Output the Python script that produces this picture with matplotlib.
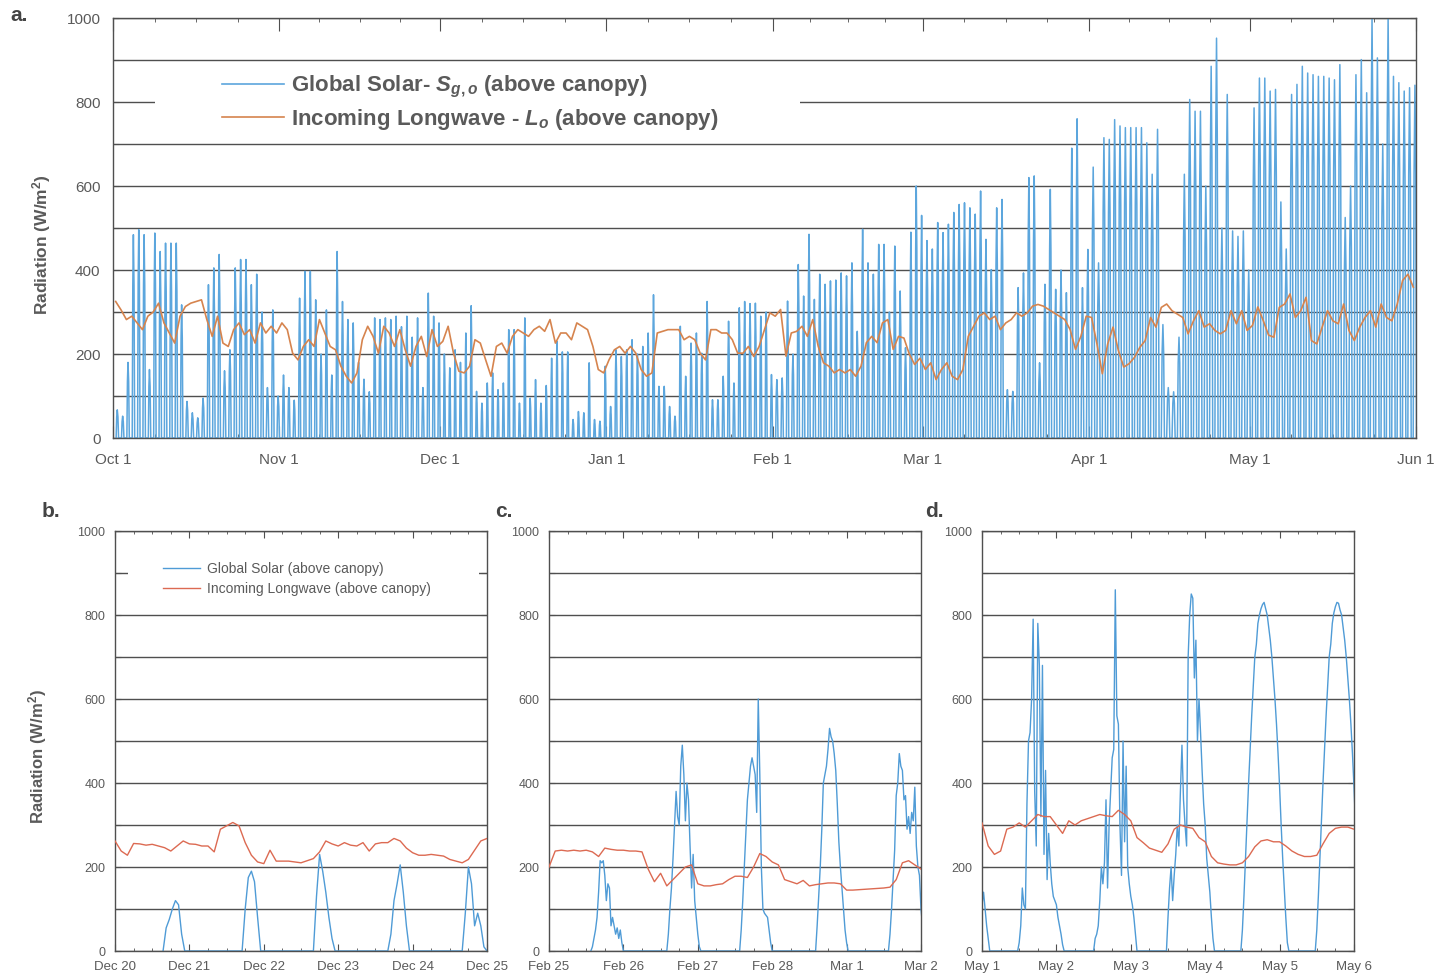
import numpy as np
import matplotlib.pyplot as plt
from matplotlib.lines import Line2D
from matplotlib.patches import Rectangle

plt.rcParams['font.family'] = ['Liberation Sans', 'DejaVu Sans']
plt.rcParams['mathtext.fontset'] = 'custom'
plt.rcParams['mathtext.it'] = 'Liberation Sans:italic:bold'
plt.rcParams['mathtext.rm'] = 'Liberation Sans:bold'
plt.rcParams['mathtext.bf'] = 'Liberation Sans:bold'

# ---- season overview, Oct 1 - May 31: daily peak global solar (W/m2)
solar_oct = [67, 52, 180, 484, 496, 484, 163, 488, 444, 464, 464, 464, 317, 87, 60, 48, 95, 365, 405, 437,
             160, 210, 405, 425, 425, 365, 390, 300, 120, 305, 100]
solar_nov = [150, 120, 90, 333, 397, 397, 329, 200, 305, 150, 444, 325, 282, 274, 180, 140, 110, 286, 282, 286,
             282, 290, 265, 290, 240, 286, 120, 345, 290, 274]
solar_dec = [200, 167, 210, 180, 250, 315, 111, 83, 131, 155, 115, 131, 258, 258, 83, 286, 95, 139, 83, 125,
             190, 230, 205, 205, 44, 63, 60, 179, 44, 40, 171]
solar_jan = [75, 210, 194, 210, 234, 200, 218, 250, 341, 123, 123, 75, 52, 266, 147, 226, 250, 202, 325, 91,
             91, 147, 278, 131, 310, 325, 320, 321, 290, 300, 151]
solar_feb = [139, 143, 326, 200, 413, 338, 485, 330, 390, 366, 374, 376, 393, 386, 417, 254, 497, 417, 390, 461,
             461, 300, 457, 350, 215, 490, 600, 530]
solar_mar = [470, 450, 513, 489, 509, 537, 556, 560, 548, 533, 588, 473, 401, 548, 568, 115, 111, 358, 393, 620,
             624, 179, 366, 592, 354, 400, 346, 690, 760, 358, 449]
solar_apr = [645, 417, 715, 711, 758, 743, 739, 739, 739, 739, 703, 628, 735, 270, 120, 110, 240, 628, 806, 778,
             778, 600, 885, 952, 500, 818, 493, 480, 493, 400]
solar_may = [786, 857, 857, 826, 830, 562, 450, 818, 842, 885, 869, 865, 861, 861, 857, 853, 889, 525, 600, 865,
             901, 822, 1000, 905, 700, 1000, 861, 846, 826, 834, 840]

# daily incoming longwave (W/m2)
lw_oct = [325, 305, 282, 290, 274, 258, 290, 300, 321, 274, 250, 226, 290, 313, 321, 325, 329, 282, 242, 290,
          226, 218, 258, 274, 246, 258, 226, 274, 250, 266, 250]
lw_nov = [274, 258, 202, 186, 218, 234, 218, 282, 250, 218, 210, 171, 147, 131, 155, 234, 266, 242, 202, 266,
          250, 218, 258, 210, 171, 218, 242, 194, 258, 218]
lw_dec = [230, 266, 202, 159, 155, 171, 234, 226, 186, 147, 218, 226, 202, 242, 258, 250, 242, 258, 266, 254,
          282, 226, 250, 250, 234, 274, 266, 258, 218, 163, 155]
lw_jan = [186, 210, 218, 202, 218, 202, 163, 147, 155, 250, 254, 258, 258, 258, 234, 242, 234, 202, 186, 258,
          258, 250, 250, 234, 202, 202, 218, 194, 218, 258, 298]
lw_feb = [290, 306, 195, 250, 254, 266, 242, 282, 219, 179, 171, 155, 163, 155, 163, 147, 171, 227, 242, 227,
          274, 282, 211, 242, 238, 200, 175, 190]
lw_mar = [163, 179, 139, 163, 179, 147, 139, 163, 242, 266, 290, 298, 282, 290, 258, 274, 282, 298, 290, 298,
          314, 318, 314, 306, 298, 290, 282, 258, 211, 242, 290]
lw_apr = [287, 224, 153, 224, 264, 208, 169, 177, 192, 216, 232, 287, 264, 311, 319, 303, 295, 287, 248, 279,
          303, 264, 272, 256, 248, 256, 303, 272, 303, 256]
lw_may = [268, 312, 280, 245, 240, 311, 319, 343, 287, 303, 335, 232, 224, 264, 303, 279, 272, 319, 256, 232,
          264, 287, 303, 264, 319, 287, 279, 319, 375, 390, 359]

month_labels = ['Oct 1', 'Nov 1', 'Dec 1', 'Jan 1', 'Feb 1', 'Mar 1', 'Apr 1', 'May 1', 'Jun 1']
# hours (logger clock) of sunrise / sunset for each month, and of the daily maximum
sunrise_h = [14, 14.5, 15.5, 15, 14, 13, 12, 11.5]
sunset_h = [25, 24, 23.5, 24, 24.5, 25, 26, 26.5]
peak_h = 19.2
# day curve drawn through rise, mid-morning, peak, mid-afternoon, set
shoulder = 0.75

# ---- b. Dec 20-25: hourly solar for each day, starting at the given hour
b_days = ['Dec 20', 'Dec 21', 'Dec 22', 'Dec 23', 'Dec 24', 'Dec 25']
b_solar_start = [15.5, 41, 64, 88, 112]
b_solar_step = 1.0
b_solar = [
    [0, 55, 75, 100, 120, 110, 40, 0],
    [0, 100, 175, 190, 165, 80, 0],
    [0, 130, 230, 190, 140, 80, 30, 0],
    [0, 40, 120, 160, 205, 140, 60, 0],
    [0, 90, 200, 160, 60, 90, 60, 10, 0],
]
# longwave every 2 hours from Dec 20 00:00
b_lw = [262, 238, 228, 256, 255, 252, 254, 250, 246, 238, 250, 262, 255, 254, 250, 250, 236, 290, 298, 306,
        298, 258, 228, 212, 208, 240, 214, 214, 214, 212, 210, 215, 220, 236, 262, 255, 250, 258, 252, 250,
        258, 238, 255, 258, 258, 268, 262, 245, 234, 228, 228, 230, 228, 226, 218, 214, 210, 218, 240, 262, 268]

# ---- c. Feb 25 - Mar 2, half-hourly solar
c_days = ['Feb 25', 'Feb 26', 'Feb 27', 'Feb 28', 'Mar 1', 'Mar 2']
c_solar_start = [13.5, 38, 61.5, 86, 109.5]
c_solar_step = 0.5
c_solar = [
    [0, 10, 30, 50, 80, 140, 215, 210, 215, 180, 120, 160, 150, 60, 80, 60, 40, 55, 30, 50, 20, 0],
    [0, 40, 100, 150, 220, 300, 380, 320, 300, 440, 490, 420, 310, 400, 360, 250, 150, 230, 120, 80, 40, 10, 0],
    [0, 50, 120, 200, 280, 360, 400, 440, 460, 440, 420, 330, 600, 420, 200, 100, 90, 85, 80, 50, 20, 0],
    [0, 60, 130, 200, 290, 400, 420, 440, 480, 530, 510, 500, 470, 430, 350, 260, 200, 150, 100, 50, 20, 0],
    [0, 40, 100, 170, 240, 370, 400, 470, 440, 430, 360, 370, 290, 320, 280, 330, 310, 390, 250, 200, 180, 100,
     60, 20, 0],
]
c_lw = [200, 238, 240, 238, 240, 238, 240, 236, 225, 245, 242, 240, 240, 238, 238, 236, 195, 165, 185, 155,
        170, 185, 200, 205, 160, 155, 155, 158, 160, 170, 178, 178, 175, 200, 232, 225, 212, 205, 170, 165,
        160, 168, 155, 158, 160, 162, 162, 160, 145, 145, 146, 147, 148, 149, 150, 152, 170, 210, 215, 205, 195]

# ---- d. May 1-6, half-hourly solar (first run is the tail of Apr 30)
d_days = ['May 1', 'May 2', 'May 3', 'May 4', 'May 5', 'May 6']
d_solar_start = [0, 11.5, 36, 59.5, 83.5, 107.5]
d_solar_step = 0.5
d_solar = [
    [110, 140, 100, 60, 30, 0],
    [0, 20, 60, 150, 110, 100, 350, 500, 520, 600, 790, 380, 250, 780, 680, 320, 680, 230, 430, 170, 280, 210,
     160, 130, 120, 110, 80, 60, 40, 15, 0],
    [0, 30, 40, 60, 120, 200, 160, 210, 360, 150, 300, 380, 460, 480, 860, 560, 540, 300, 180, 500, 260, 440,
     200, 160, 130, 110, 80, 40, 0],
    [0, 80, 150, 200, 120, 180, 230, 300, 250, 380, 490, 360, 300, 250, 700, 800, 850, 840, 650, 740, 500, 600,
     520, 430, 350, 300, 220, 180, 140, 80, 30, 0],
    [0, 50, 130, 220, 310, 400, 480, 560, 630, 700, 730, 780, 800, 815, 825, 830, 815, 800, 770, 740, 700, 650,
     600, 540, 470, 390, 300, 220, 150, 80, 20, 0],
    [0, 50, 130, 220, 310, 400, 480, 560, 630, 700, 730, 780, 805, 820, 830, 828, 812, 800, 770, 740, 700, 650,
     600, 540, 470, 390, 300, 220, 150, 80, 20, 0],
]
d_lw = [305, 250, 230, 238, 290, 295, 305, 295, 310, 325, 320, 320, 300, 280, 310, 300, 310, 315, 320, 325,
        322, 320, 335, 325, 310, 270, 258, 245, 240, 235, 255, 290, 300, 295, 292, 270, 260, 225, 210, 207,
        205, 205, 210, 225, 248, 262, 265, 260, 260, 250, 238, 230, 225, 225, 228, 255, 280, 292, 295, 295, 290]

SOLAR_A = '#5ca6dd'
LW_A = '#d6844e'
SOLAR_B = '#4f9bd6'
LW_B = '#dc6a52'
GRID = '#4f4f4f'
TXT = '#5a5a5a'


def day_runs(starts, runs, step):
    t, v = [], []
    for s, vals in zip(starts, runs):
        t.extend(s + step * np.arange(len(vals)))
        v.extend(vals)
    return np.array(t) / 24.0, np.array(v)


def style(ax, ysize):
    ax.set_ylim(0, 1000)
    ax.set_yticks(np.arange(0, 1001, 100))
    ax.set_yticklabels([str(v) if v % 200 == 0 else '' for v in range(0, 1001, 100)])
    ax.yaxis.grid(True, color=GRID, lw=1.0)
    ax.set_axisbelow(True)
    for s in ax.spines.values():
        s.set_color(GRID)
        s.set_linewidth(1.0)
    ax.tick_params(axis='y', which='major', direction='in', length=4, color=GRID,
                   labelsize=ysize, labelcolor=TXT, right=True)


fig = plt.figure(figsize=(14.41, 9.77), dpi=100)

# ---------------- a. whole season
ax = fig.add_axes([113 / 1441, 1 - 438 / 977, 1303 / 1441, 420 / 977])
solar_months = [solar_oct, solar_nov, solar_dec, solar_jan, solar_feb, solar_mar, solar_apr, solar_may]
lw_months = [lw_oct, lw_nov, lw_dec, lw_jan, lw_feb, lw_mar, lw_apr, lw_may]

sx, sy = [], []
month_start = [0]
day = 0
for peaks, rise, sset in zip(solar_months, sunrise_h, sunset_h):
    for p in peaks:
        am = (rise + peak_h) / 2
        pm = (peak_h + sset) / 2
        sx += [day + h / 24 for h in (rise, am, peak_h, pm, sset)]
        sy += [0, shoulder * p, p, shoulder * p, 0]
        day += 1
    month_start.append(day)
lw_all = np.concatenate(lw_months)
ax.plot(sx, sy, color=SOLAR_A, lw=1.1, zorder=2)
ax.plot(np.arange(len(lw_all)) + 0.5, lw_all, color=LW_A, lw=1.2, zorder=3)

style(ax, 11)
ax.set_xlim(0, month_start[-1])
ax.set_xticks(month_start)
ax.set_xticklabels(month_labels)
minor = []
for a, b in zip(month_start[:-1], month_start[1:]):
    minor += [a + (b - a) * f for f in (0.25, 0.5, 0.75)]
ax.set_xticks(minor, minor=True)
ax.tick_params(axis='x', which='major', direction='in', length=9, color=GRID, top=True,
               labelsize=11, labelcolor=TXT, pad=11)
ax.tick_params(axis='x', which='minor', direction='in', length=3, color=GRID, top=True)
ax.tick_params(axis='y', pad=9)

ax.add_patch(Rectangle((0.032, 0.713), 0.495, 0.172, transform=ax.transAxes,
                       facecolor='white', edgecolor='none', zorder=1.5))
handles = [Line2D([], [], color=SOLAR_A, lw=1.2), Line2D([], [], color=LW_A, lw=1.2)]
leg = ax.legend(handles, ['Global Solar- $S_{g,o}$ (above canopy)',
                          'Incoming Longwave - $L_o$ (above canopy)'],
                loc='upper left', bbox_to_anchor=(0.0837, 0.866), frameon=False, borderpad=0,
                borderaxespad=0, handlelength=2.8, handletextpad=0.3, labelspacing=0.3,
                prop={'size': 16, 'weight': 'bold'})
for t in leg.get_texts():
    t.set_color(TXT)

fig.text(42 / 1441, 1 - 245 / 977, 'Radiation (W/m$^2$)', rotation=90, ha='center', va='center',
         fontsize=12.5, fontweight='bold', color=TXT)
fig.text(10 / 1441, 1 - 6 / 977, 'a.', ha='left', va='top', fontsize=15, fontweight='bold', color='#444444')

# ---------------- b, c, d. five-day close-ups
panels = [
    ('b.', 115, 42, b_days, b_solar_start, b_solar, b_solar_step, b_lw, True),
    ('c.', 549, 495, c_days, c_solar_start, c_solar, c_solar_step, c_lw, False),
    ('d.', 982, 925, d_days, d_solar_start, d_solar, d_solar_step, d_lw, False),
]
for letter, x0, lx, days, starts, runs, step, lw, with_legend in panels:
    bx = fig.add_axes([x0 / 1441, 1 - 951 / 977, 372 / 1441, 420 / 977])
    st, sv = day_runs(starts, runs, step)
    bx.plot(st, sv, color=SOLAR_B, lw=1.0, zorder=2)
    bx.plot(np.arange(len(lw)) * 2 / 24.0, lw, color=LW_B, lw=1.0, zorder=3)
    style(bx, 9)
    bx.set_xlim(0, 5)
    bx.set_xticks(range(6))
    bx.set_xticklabels(days)
    bx.set_xticks(np.arange(0, 5.01, 0.25), minor=True)
    bx.tick_params(axis='x', which='major', direction='in', length=5, color=GRID, top=True,
                   labelsize=9.5, labelcolor=TXT, pad=7)
    bx.tick_params(axis='x', which='minor', direction='in', length=2.5, color=GRID, top=True)
    bx.tick_params(axis='y', pad=7)
    fig.text(lx / 1441, 1 - 502 / 977, letter, ha='left', va='top', fontsize=15,
             fontweight='bold', color='#444444')
    if with_legend:
        bx.add_patch(Rectangle((0.035, 0.84), 0.943, 0.10, transform=bx.transAxes,
                               facecolor='white', edgecolor='none', zorder=1.5))
        hb = [Line2D([], [], color=SOLAR_B, lw=1.0), Line2D([], [], color=LW_B, lw=1.0)]
        lg = bx.legend(hb, ['Global Solar (above canopy)', 'Incoming Longwave (above canopy)'],
                       loc='upper left', bbox_to_anchor=(0.129, 0.926), frameon=False, borderpad=0,
                       borderaxespad=0, handlelength=2.7, handletextpad=0.45, labelspacing=0.45,
                       fontsize=10)
        for t in lg.get_texts():
            t.set_color(TXT)

fig.text(38 / 1441, 1 - 757 / 977, 'Radiation (W/m$^2$)', rotation=90, ha='center', va='center',
         fontsize=12, fontweight='bold', color=TXT)

fig.savefig('out.png', dpi=100, facecolor='white')
